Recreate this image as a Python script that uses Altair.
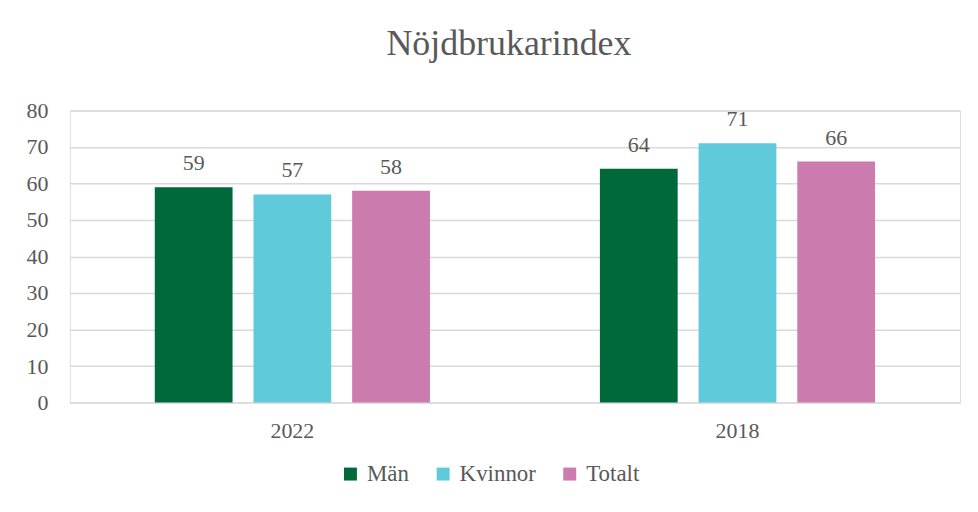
import altair as alt
import pandas as pd

years = ["2022", "2018"]
series = ["Män", "Kvinnor", "Totalt"]
values_2022 = [59, 57, 58]
values_2018 = [64, 71, 66]
colors = ["#00693C", "#5FCBDA", "#CB7BAD"]
y_ticks = [0, 10, 20, 30, 40, 50, 60, 70, 80]

rows = []
for s, v in zip(series, values_2022):
    rows.append({"År": "2022", "Grupp": s, "Värde": v})
for s, v in zip(series, values_2018):
    rows.append({"År": "2018", "Grupp": s, "Värde": v})
df = pd.DataFrame(rows)

FONT = "Liberation Serif"
GREY = "#595959"

x = alt.X("År:N", sort=years, title=None,
          scale=alt.Scale(paddingInner=0, paddingOuter=0),
          axis=alt.Axis(labelAngle=0, labelFontSize=22, labelColor=GREY, labelFont=FONT,
                        domain=False, ticks=False, grid=False, labelPadding=18))
xo = alt.XOffset("Grupp:N", sort=series,
                 scale=alt.Scale(paddingInner=0.212, paddingOuter=0.861))
y = alt.Y("Värde:Q", title=None,
          scale=alt.Scale(domain=[0, 80]),
          axis=alt.Axis(values=y_ticks, labelFontSize=22, labelColor=GREY, labelFont=FONT,
                        domain=False, ticks=False, labelPadding=22,
                        gridColor="#d9d9d9", gridWidth=1.5))
color = alt.Color("Grupp:N", sort=series,
                  scale=alt.Scale(domain=series, range=colors),
                  legend=alt.Legend(title=None, orient="none", direction="horizontal",
                                    legendX=270, legendY=353,
                                    symbolType="square", symbolSize=169, symbolStrokeWidth=0,
                                    labelFontSize=23, labelColor=GREY, labelFont=FONT,
                                    columnPadding=22, labelOffset=5))

bars = alt.Chart(df).mark_bar().encode(x=x, xOffset=xo, y=y, color=color)
labels = alt.Chart(df).mark_text(baseline="bottom", dy=-12, fontSize=22, color=GREY, font=FONT).encode(
    x=x, xOffset=xo, y=y, text=alt.Text("Värde:Q"))

chart = alt.layer(bars, labels).properties(
    width=893, height=293,
    title=alt.Title("Nöjdbrukarindex", fontSize=36, font=FONT, color=GREY,
                    fontWeight="normal", offset=37, dx=-6),
    autosize=alt.AutoSizeParams(type="none"),
    padding={"left": 62, "top": 102, "right": 10, "bottom": 100},
).configure_view(stroke=None).configure(background="white", font=FONT)

chart.save("out.html", embed_options={"renderer": "svg", "actions": False})
